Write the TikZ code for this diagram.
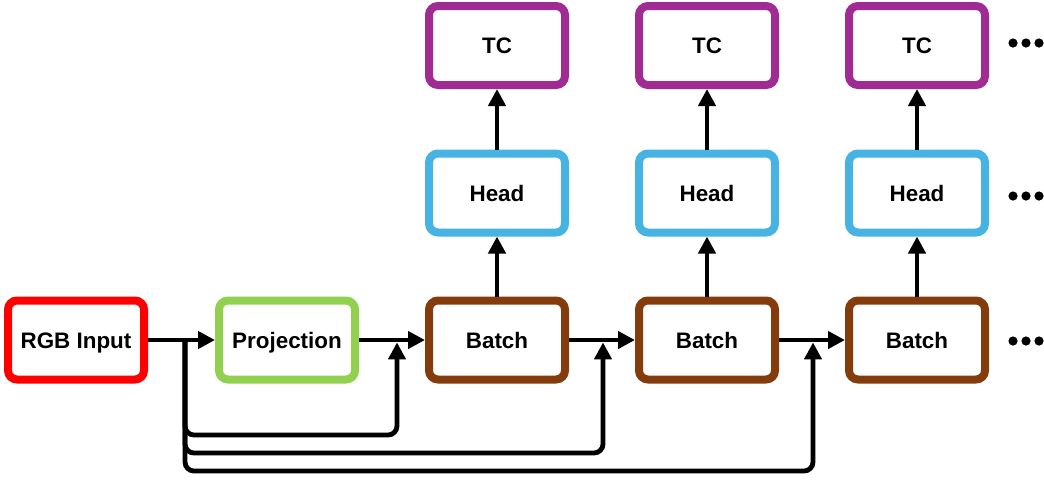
\documentclass[tikz,border=0pt]{standalone}
\usepackage{fontspec}
\setmainfont{Liberation Sans}
\usetikzlibrary{arrows.meta}

\definecolor{rgbred}{HTML}{FF0000}
\definecolor{projgreen}{HTML}{92D050}
\definecolor{batchbrown}{HTML}{843C0C}
\definecolor{headblue}{HTML}{47B3E2}
\definecolor{tcpurple}{HTML}{A02B93}

\begin{document}
\begin{tikzpicture}[x=0.5pt,y=-0.5pt]
		\tikzstyle{BoxStyle}=[draw,line width=4pt,rounded corners=4.5pt,fill=white,
			minimum width=68pt,minimum height=39.5pt,text height=8pt,text depth=0pt,
			font=\bfseries\fontsize{11.2}{13}\selectfont]
		\tikzstyle{EdgeStyle}=[line width=2.4pt,-{Triangle[length=8.5pt,width=8.5pt]}]
		\tikzstyle{LoopStyle}=[EdgeStyle,rounded corners=4.5pt,shorten >=1.2pt]
		\useasboundingbox (0,0) rectangle (1044,479);
		\node[BoxStyle,draw=rgbred] (R) at (76,340) {RGB Input};
		\node[BoxStyle,draw=projgreen] (P) at (287,340) {Projection};
		\foreach \i/\x in {1/497,2/707,3/917}{
			\node[BoxStyle,draw=batchbrown] (B\i) at (\x,340) {Batch};
			\node[BoxStyle,draw=headblue] (H\i) at (\x,193) {Head};
			\node[BoxStyle,draw=tcpurple] (T\i) at (\x,45.5) {TC};
			\draw[EdgeStyle] (B\i) -- (H\i);
			\draw[EdgeStyle] (H\i) -- (T\i);
		}
		\draw[EdgeStyle] (R) -- (P);
		\draw[EdgeStyle] (P) -- (B1);
		\draw[EdgeStyle] (B1) -- (B2);
		\draw[EdgeStyle] (B2) -- (B3);
		% skip connections
		\coordinate (S) at (185,340);
		\coordinate (J1) at (397,340);
		\coordinate (J2) at (603,340);
		\coordinate (J3) at (813,340);
		\draw[LoopStyle] (S) -- ++(0,95) -| (J1);
		\draw[LoopStyle] (S) -- ++(0,113) -| (J2);
		\draw[LoopStyle] (S) -- ++(0,131) -| (J3);
		% more columns
		\foreach \n/\dy in {T3/-2.5,H3/3,B3/1}
			\foreach \k in {0,1,2}
				\fill (\n.center) ++(96+13*\k,\dy) circle (2.3pt);
	\end{tikzpicture}
\end{document}
